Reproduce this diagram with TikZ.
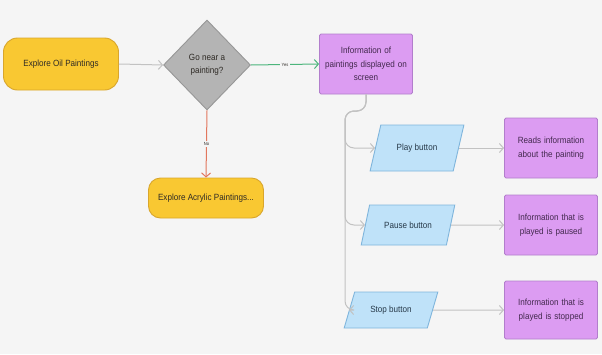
\documentclass[tikz,border=0pt]{standalone}
\usepackage{fontspec}
\setmainfont[FakeStretch=0.9]{Liberation Sans}
\usetikzlibrary{shapes.geometric,arrows.meta}

\definecolor{bgc}{HTML}{F5F5F5}
\definecolor{yelfill}{HTML}{F9C832}
\definecolor{yeldraw}{HTML}{D9A62C}
\definecolor{grayfill}{HTML}{B4B4B4}
\definecolor{graydraw}{HTML}{979797}
\definecolor{purfill}{HTML}{DC9CF2}
\definecolor{purdraw}{HTML}{B27ECC}
\definecolor{bluefill}{HTML}{BFE2F9}
\definecolor{bluedraw}{HTML}{7FB5DC}
\definecolor{linegray}{HTML}{C2C2C2}
\definecolor{yesgreen}{HTML}{4CB57C}
\definecolor{nored}{HTML}{E2775E}
\definecolor{txtdark}{HTML}{2E2A25}
\definecolor{txtpur}{HTML}{42284D}
\definecolor{txtblue}{HTML}{263848}

\tikzset{
  every node/.style={font=\fontsize{9}{13.5}\selectfont, align=center},
  terminal/.style={draw=yeldraw, fill=yelfill, line width=0.9pt,
    rounded corners=14pt, minimum width=115pt, text=txtdark},
  decision/.style={diamond, draw=graydraw, fill=grayfill, line width=0.9pt,
    minimum width=87pt, minimum height=90pt, inner sep=0pt, text=txtdark},
  procbox/.style={draw=purdraw, fill=purfill, line width=0.9pt,
    rounded corners=1.5pt, minimum width=93pt, text width=86pt, text=txtpur},
  iobox/.style={trapezium, trapezium left angle=62, trapezium right angle=118,
    trapezium stretches=true, draw=bluedraw, fill=bluefill, line width=0.9pt,
    minimum width=94pt, inner sep=2pt, text=txtblue},
  conn/.style={draw=linegray, line width=1pt,
    -{Straight Barb[length=4pt,width=9pt,line width=1pt]}},
  edgetag/.style={fill=bgc, inner sep=1.5pt, text=txtdark,
    font=\fontsize{4.5}{5}\selectfont},
}

\begin{document}
\begin{tikzpicture}[x=1pt,y=-1pt]
  % canvas
  \fill[bgc] (0,0) rectangle (602,354);
  \useasboundingbox (0,0) rectangle (602,354);

  % main flow
  \node[terminal, minimum height=52pt] (oil) at (61,64) {Explore Oil Paintings};
  \node[decision] (near) at (207,65) {Go near a\\painting?};
  \node[procbox, minimum height=60pt] (info) at (366,64)
    {Information of\\paintings displayed on\\screen};
  \node[terminal, minimum height=40pt, rounded corners=12pt] (acrylic) at (206,198)
    {Explore Acrylic Paintings...};

  % controls
  \node[iobox, minimum height=46pt] (play) at (417,148) {Play button};
  \node[iobox, minimum height=40pt] (pause) at (408,225) {Pause button};
  \node[iobox, minimum height=36pt] (stop) at (391,310) {Stop button};

  % results
  \node[procbox, minimum height=60pt] (reads) at (551,148)
    {Reads information\\about the painting};
  \node[procbox, minimum height=60pt] (paused) at (551,225)
    {Information that is\\played is paused};
  \node[procbox, minimum height=58pt] (stopped) at (551,310)
    {Information that is\\played is stopped};

  % trunk of the branch below the info box
  \coordinate (bend) at (345,111);

  % connectors
  \draw[conn] (oil.east) -- (near.west);
  \draw[conn, draw=yesgreen] (near.east) -- node[edgetag] {Yes} (info.west);
  \draw[conn, draw=nored] (near.south) -- node[edgetag] {No} (acrylic.north);

  \draw[conn, rounded corners=9pt] (info.south) -- (info.south |- bend) -- (bend)
    -- (bend |- play.west) -- (play.west);
  \draw[conn, rounded corners=9pt] (info.south) -- (info.south |- bend) -- (bend)
    -- (bend |- pause.west) -- (pause.west);
  \draw[conn, rounded corners=9pt] (info.south) -- (info.south |- bend) -- (bend)
    -- (bend |- stop.west) -- (stop.west);

  \draw[conn] (play.east) -- (reads.west);
  \draw[conn] (pause.east) -- (paused.west);
  \draw[conn] (stop.east) -- (stopped.west);
\end{tikzpicture}
\end{document}
